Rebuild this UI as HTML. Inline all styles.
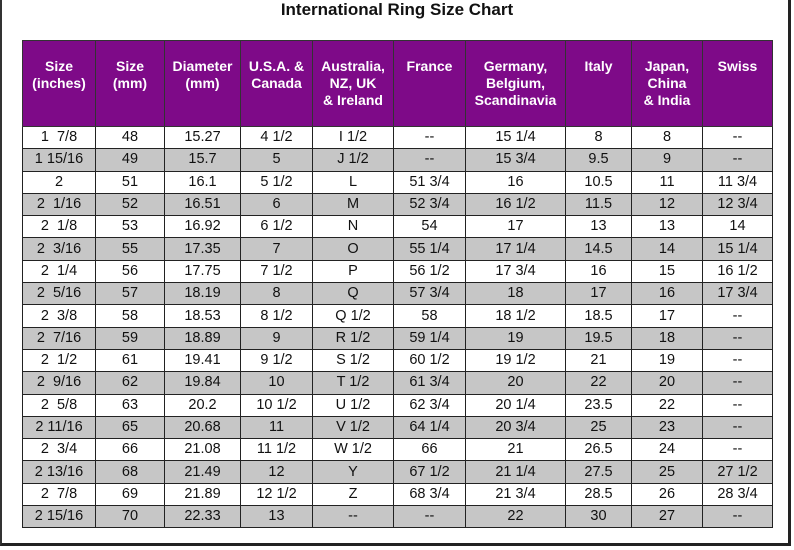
<!DOCTYPE html>
<html><head><style>
body{margin:0;width:794px;height:550px;background:#fff;position:relative;overflow:hidden;font-family:"Liberation Sans",Arial,sans-serif}
.frame{position:absolute;left:0;top:-4px;width:791px;height:550px;border-left:2px solid #333;border-right:3px solid #222;border-bottom:3px solid #222;box-sizing:border-box}
h1{position:absolute;top:0;left:0;width:794px;text-align:center;font-size:17px;font-weight:bold;margin:0;line-height:20px;color:#111}
table{position:absolute;left:22px;top:40px;border-collapse:collapse;table-layout:fixed;width:750px}
th{background:#7e0a88;color:#fff;font-weight:bold;font-size:14px;vertical-align:top;padding-top:17px;height:67px;line-height:17px;border:1px solid #333;text-align:center}
td{height:21.3px;padding:0;font-size:14.5px;text-align:center;border:1px solid #222;color:#111;line-height:21px}
tr.g td{background:#c6c6c6}
</style></head><body>
<div class="frame"></div>
<h1>International Ring Size Chart</h1>
<table>
<colgroup><col style="width:73px"><col style="width:69px"><col style="width:76px"><col style="width:72px"><col style="width:81px"><col style="width:72px"><col style="width:100px"><col style="width:66px"><col style="width:71px"><col style="width:70px"></colgroup>
<tr><th>Size<br>(inches)</th><th>Size<br>(mm)</th><th>Diameter<br>(mm)</th><th>U.S.A. &amp;<br>Canada</th><th>Australia,<br>NZ, UK<br>&amp; Ireland</th><th>France</th><th>Germany,<br>Belgium,<br>Scandinavia</th><th>Italy</th><th>Japan,<br>China<br>&amp; India</th><th>Swiss</th></tr>
<tr><td>1&nbsp; 7/8</td><td>48</td><td>15.27</td><td>4 1/2</td><td>I 1/2</td><td>--</td><td>15 1/4</td><td>8</td><td>8</td><td>--</td></tr>
<tr class="g"><td>1 15/16</td><td>49</td><td>15.7</td><td>5</td><td>J 1/2</td><td>--</td><td>15 3/4</td><td>9.5</td><td>9</td><td>--</td></tr>
<tr><td>2</td><td>51</td><td>16.1</td><td>5 1/2</td><td>L</td><td>51 3/4</td><td>16</td><td>10.5</td><td>11</td><td>11 3/4</td></tr>
<tr class="g"><td>2&nbsp; 1/16</td><td>52</td><td>16.51</td><td>6</td><td>M</td><td>52 3/4</td><td>16 1/2</td><td>11.5</td><td>12</td><td>12 3/4</td></tr>
<tr><td>2&nbsp; 1/8</td><td>53</td><td>16.92</td><td>6 1/2</td><td>N</td><td>54</td><td>17</td><td>13</td><td>13</td><td>14</td></tr>
<tr class="g"><td>2&nbsp; 3/16</td><td>55</td><td>17.35</td><td>7</td><td>O</td><td>55 1/4</td><td>17 1/4</td><td>14.5</td><td>14</td><td>15 1/4</td></tr>
<tr><td>2&nbsp; 1/4</td><td>56</td><td>17.75</td><td>7 1/2</td><td>P</td><td>56 1/2</td><td>17 3/4</td><td>16</td><td>15</td><td>16 1/2</td></tr>
<tr class="g"><td>2&nbsp; 5/16</td><td>57</td><td>18.19</td><td>8</td><td>Q</td><td>57 3/4</td><td>18</td><td>17</td><td>16</td><td>17 3/4</td></tr>
<tr><td>2&nbsp; 3/8</td><td>58</td><td>18.53</td><td>8 1/2</td><td>Q 1/2</td><td>58</td><td>18 1/2</td><td>18.5</td><td>17</td><td>--</td></tr>
<tr class="g"><td>2&nbsp; 7/16</td><td>59</td><td>18.89</td><td>9</td><td>R 1/2</td><td>59 1/4</td><td>19</td><td>19.5</td><td>18</td><td>--</td></tr>
<tr><td>2&nbsp; 1/2</td><td>61</td><td>19.41</td><td>9 1/2</td><td>S 1/2</td><td>60 1/2</td><td>19 1/2</td><td>21</td><td>19</td><td>--</td></tr>
<tr class="g"><td>2&nbsp; 9/16</td><td>62</td><td>19.84</td><td>10</td><td>T 1/2</td><td>61 3/4</td><td>20</td><td>22</td><td>20</td><td>--</td></tr>
<tr><td>2&nbsp; 5/8</td><td>63</td><td>20.2</td><td>10 1/2</td><td>U 1/2</td><td>62 3/4</td><td>20 1/4</td><td>23.5</td><td>22</td><td>--</td></tr>
<tr class="g"><td>2 11/16</td><td>65</td><td>20.68</td><td>11</td><td>V 1/2</td><td>64 1/4</td><td>20 3/4</td><td>25</td><td>23</td><td>--</td></tr>
<tr><td>2&nbsp; 3/4</td><td>66</td><td>21.08</td><td>11 1/2</td><td>W 1/2</td><td>66</td><td>21</td><td>26.5</td><td>24</td><td>--</td></tr>
<tr class="g"><td>2 13/16</td><td>68</td><td>21.49</td><td>12</td><td>Y</td><td>67 1/2</td><td>21 1/4</td><td>27.5</td><td>25</td><td>27 1/2</td></tr>
<tr><td>2&nbsp; 7/8</td><td>69</td><td>21.89</td><td>12 1/2</td><td>Z</td><td>68 3/4</td><td>21 3/4</td><td>28.5</td><td>26</td><td>28 3/4</td></tr>
<tr class="g"><td>2 15/16</td><td>70</td><td>22.33</td><td>13</td><td>--</td><td>--</td><td>22</td><td>30</td><td>27</td><td>--</td></tr>
</table>
</body></html>
